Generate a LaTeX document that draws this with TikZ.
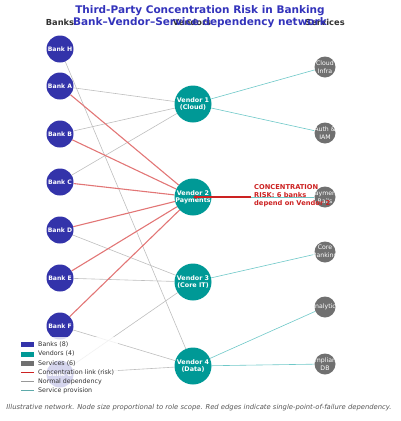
\documentclass[tikz,border=0pt]{standalone}
\usepackage{fontspec}
\setmainfont{DejaVu Sans}
\usetikzlibrary{arrows.meta}
\pgfdeclarelayer{bg}
\pgfsetlayers{bg,main}
\definecolor{bankc}{RGB}{51,51,170}
\definecolor{vendc}{RGB}{0,153,150}
\definecolor{servc}{RGB}{112,112,112}
\definecolor{riskc}{RGB}{204,34,34}
\definecolor{riskedge}{RGB}{226,118,118}
\definecolor{normedge}{RGB}{190,190,190}
\definecolor{provedge}{RGB}{110,200,200}
\definecolor{titlec}{RGB}{51,51,187}
\definecolor{headc}{RGB}{50,50,50}
\definecolor{footc}{RGB}{85,85,85}
\begin{document}
\begin{tikzpicture}[x=1pt,y=-1pt,
  bank/.style={circle, fill=bankc, minimum size=27pt, inner sep=0pt, text=white, font=\fontsize{6.1}{7}\selectfont\bfseries},
  vendor/.style={circle, fill=vendc, minimum size=37pt, inner sep=0pt},
  vlabel/.style={text=white, align=center, inner sep=0pt, font=\fontsize{6.4}{7.4}\selectfont\bfseries},
  service/.style={circle, fill=servc, minimum size=21pt, inner sep=0pt},
  slabel/.style={text=white, align=center, inner sep=0pt, font=\fontsize{6.2}{7.6}\selectfont},
  riskline/.style={draw=riskedge, line width=1.1pt},
  normline/.style={draw=normedge, line width=0.6pt},
  provline/.style={draw=provedge, line width=0.6pt},
  legtext/.style={anchor=west, inner sep=0pt, text=headc, font=\fontsize{6.3}{7}\selectfont},
  header/.style={text=headc, font=\fontsize{8.3}{9}\selectfont\bfseries},
  titletext/.style={text=titlec, font=\fontsize{10.5}{12}\selectfont\bfseries}]
\useasboundingbox (0,0) rectangle (400,421);
% banks
\node[bank] (H) at (60,49) {Bank H};
\node[bank] (A) at (60,86) {Bank A};
\node[bank] (B) at (60,134) {Bank B};
\node[bank] (C) at (60,182) {Bank C};
\node[bank] (D) at (60,230) {Bank D};
\node[bank] (E) at (60,278) {Bank E};
\node[bank] (F) at (60,326) {Bank F};
\node[bank] (G) at (60,374) {Bank G};
% vendors
\node[vendor, label={[vlabel]center:Vendor 1\\(Cloud)}] (V1) at (193,104) {};
\node[vendor, label={[vlabel]center:Vendor 2\\Payments}] (V2) at (193,197) {};
\node[vendor, label={[vlabel]center:Vendor 3\\(Core IT)}] (V3) at (193,282) {};
\node[vendor, label={[vlabel]center:Vendor 4\\(Data)}] (V4) at (193,366) {};
% services
\node[service, label={[slabel]center:Cloud\\Infra}] (S1) at (325,67) {};
\node[service, label={[slabel]center:Auth \&\\IAM}] (S2) at (325,133) {};
\node[service, label={[slabel]center:Payment\\Rails}] (S3) at (325,197) {};
\node[service, label={[slabel]center:Core\\Banking}] (S4) at (325,252) {};
\node[service, label={[slabel]center:Analytics}] (S5) at (325,307) {};
\node[service, label={[slabel]center:Compliance\\DB}] (S6) at (325,364) {};
% edges
\begin{pgfonlayer}{bg}
\draw[normline] (H) -- (V4);
\draw[normline] (A) -- (V1);
\draw[normline] (B) -- (V1);
\draw[normline] (C) -- (V1);
\draw[normline] (D) -- (V3);
\draw[normline] (E) -- (V3);
\draw[normline] (F) -- (V4);
\draw[normline] (G) -- (V3);
\draw[normline] (G) -- (V4);
\draw[riskline] (A) -- (V2);
\draw[riskline] (B) -- (V2);
\draw[riskline] (C) -- (V2);
\draw[riskline] (D) -- (V2);
\draw[riskline] (E) -- (V2);
\draw[riskline] (F) -- (V2);
\draw[provline] (V1) -- (S1);
\draw[provline] (V1) -- (S2);
\draw[provline] (V2) -- (S3);
\draw[provline] (V3) -- (S4);
\draw[provline] (V4) -- (S5);
\draw[provline] (V4) -- (S6);
\end{pgfonlayer}
% annotation
\node[anchor=west, inner sep=0pt, align=left, text=riskc, font=\fontsize{6.7}{7.8}\selectfont\bfseries] (ann) at (254,196) {CONCENTRATION\\RISK: 6 banks\\depend on Vendor 2};
\coordinate (annstart) at (251,197);
\draw[riskc, line width=1.4pt, -{Stealth[length=4pt,width=4pt]}] (annstart) -- (V2.center);
% titles
\node[titletext] (t1) at (200,11) {Third-Party Concentration Risk in Banking};
\node[header] (hb) at (60,22) {Banks};
\node[header] (hv) at (192,22) {Vendors};
\node[header] (hs) at (325,22) {Services};
\node[titletext] (t2) at (200,23) {Bank–Vendor–Service dependency network};
% legend
\fill[white, opacity=0.8] (17,337) rectangle (118,396);
\fill[bankc] (21,342) rectangle (34,347);
\node[legtext] (l1) at (38,344.5) {Banks (8)};
\fill[vendc] (21,351.5) rectangle (34,356.5);
\node[legtext] (l2) at (38,354) {Vendors (4)};
\fill[servc] (21,361) rectangle (34,366);
\node[legtext] (l3) at (38,363.5) {Services (6)};
\draw[riskc, line width=1.5pt] (21,372.5) -- (34,372.5);
\node[legtext] (l4) at (38,372.5) {Concentration link (risk)};
\draw[normedge!80!black, line width=0.6pt] (21,381.5) -- (34,381.5);
\node[legtext] (l5) at (38,381.5) {Normal dependency};
\draw[provedge!85!black, line width=0.6pt] (21,390.5) -- (34,390.5);
\node[legtext] (l6) at (38,390.5) {Service provision};
% footer
\node[text=footc, font=\fontsize{6.8}{8}\selectfont\itshape] (foot) at (199,408) {Illustrative network. Node size proportional to role scope. Red edges indicate single-point-of-failure dependency.};
\end{tikzpicture}
\end{document}
